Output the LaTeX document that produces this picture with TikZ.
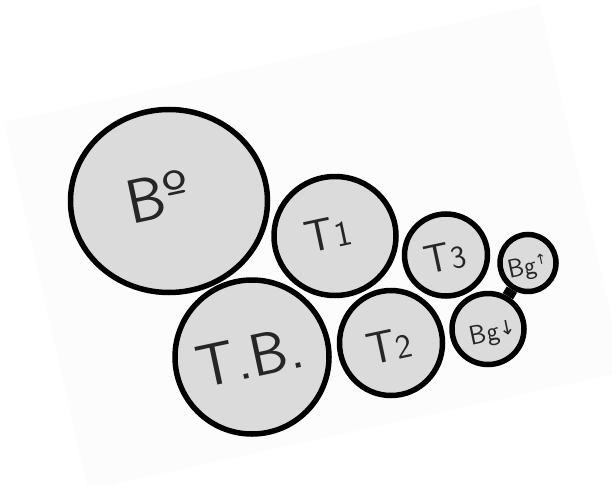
\documentclass[tikz,border=0pt]{standalone}
\usepackage{fontspec}
\newfontfamily\arrowfont{DejaVu Sans}[Scale=1]
\usetikzlibrary{shapes.geometric}
\definecolor{circfill}{gray}{0.86}
\definecolor{paper}{gray}{0.988}
\begin{document}
\begin{tikzpicture}[x=1pt,y=-1pt,
  ring/.style={ellipse, draw=black, line width=5.5pt, fill=circfill, inner sep=0pt},
  lbl/.style={rotate=12, inner sep=0pt, text=black!85}]
\useasboundingbox (0,0) rectangle (612,484);
\fill[paper] (4,122) -- (540,4) -- (624,372) -- (88,490) -- cycle;
% circles
\node[ring, minimum width=197pt, minimum height=183pt] (b)   at (169,201) {};
\node[ring, minimum width=122pt, minimum height=119pt] (t1)  at (335,236) {};
\node[ring, minimum width=83pt,  minimum height=82pt]  (t3)  at (446,255) {};
\node[ring, minimum width=56pt,  minimum height=57pt]  (bgu) at (528,263) {};
\node[ring, minimum width=154pt, minimum height=154pt] (tb)  at (252,357) {};
\node[ring, minimum width=103pt, minimum height=105pt] (t2)  at (391,343) {};
\node[ring, minimum width=72pt,  minimum height=71pt]  (bgd) at (488,329) {};
\draw[line width=12pt] (bgu) -- (bgd);
% labels
\node[lbl, font=\sffamily\fontsize{62}{62}\selectfont] (lb) at (158,196) {Bº};
\node[lbl, font=\sffamily\fontsize{45}{45}\selectfont] (l1) at (328,234) {T{\fontsize{36}{36}\selectfont 1}};
\node[lbl, font=\sffamily\fontsize{40}{40}\selectfont] (l3) at (445,257) {T{\fontsize{32}{32}\selectfont 3}};
\node[lbl, font=\sffamily\fontsize{45}{45}\selectfont] (l2) at (389,346) {T{\fontsize{34}{34}\selectfont 2}};
\node[lbl, font=\sffamily\fontsize{60}{60}\selectfont] (ltb) at (250,357) {T.B.};
\node[lbl, font=\sffamily\fontsize{26}{26}\selectfont] (lu) at (528,268) {Bg\raisebox{7pt}{\arrowfont\fontsize{14}{14}\selectfont ↑}};
\node[lbl, font=\sffamily\fontsize{27}{27}\selectfont] (ld) at (493,334) {Bg\raisebox{3pt}{\arrowfont\fontsize{20}{20}\selectfont ↓}};
\end{tikzpicture}
\end{document}
